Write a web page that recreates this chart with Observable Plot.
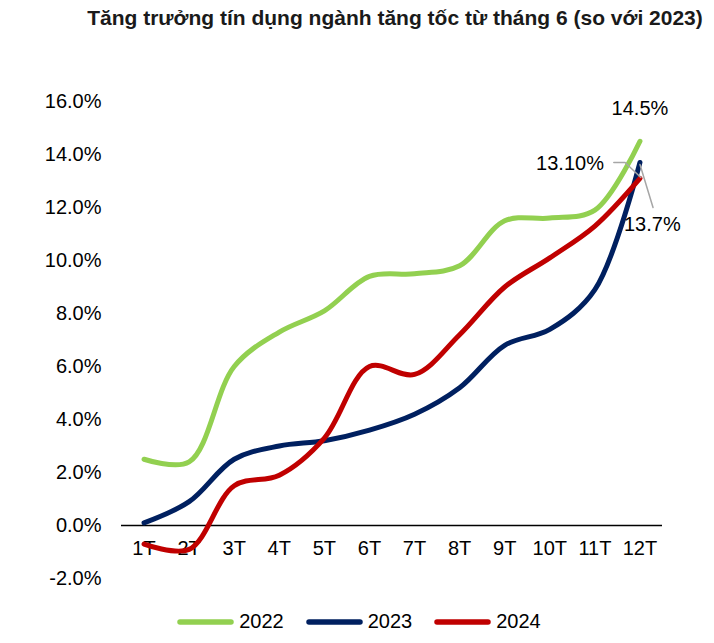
<!DOCTYPE html>
<html>
<head>
<meta charset="utf-8">
<script src="https://cdn.jsdelivr.net/npm/d3@7"></script>
<script src="https://cdn.jsdelivr.net/npm/@observablehq/plot@0.6"></script>
<style>
  body { margin: 0; background: #fff; font-family: "Liberation Sans", Arial, sans-serif; }
  #wrap { width: 714px; height: 643px; position: relative; overflow: hidden; }
  #title { height: 40px; line-height: 36px; font-weight: bold; font-size: 21px; color: #1a1a1a; text-align: center; padding-left: 76px; box-sizing: border-box; white-space: nowrap; }
  #legend { display: flex; justify-content: center; align-items: center; height: 43px; font-size: 20px; color: #000; padding-left: 4px; }
  .item { display: flex; align-items: center; margin: 0 11px; }
  .item svg { margin-right: 5px; }
</style>
</head>
<body>
<div id="wrap">
  <div id="title">Tăng trưởng tín dụng ngành tăng tốc từ tháng 6 (so với 2023)</div>
  <div id="chart"></div>
  <div id="legend"></div>
</div>
<script>
const months = [1,2,3,4,5,6,7,8,9,10,11,12];
const monthLabels = ["1T","2T","3T","4T","5T","6T","7T","8T","9T","10T","11T","12T"];
const series = ["2022", "2023", "2024"];
const colors = ["#92D050", "#002060", "#C00000"];
const v2022 = [2.5, 2.4, 6.0, 7.3, 8.1, 9.4, 9.5, 9.8, 11.5, 11.6, 11.9, 14.5];
const v2023 = [0.1, 0.9, 2.5, 3.0, 3.2, 3.6, 4.2, 5.2, 6.8, 7.4, 8.9, 13.7];
const v2024 = [-0.7, -0.9, 1.5, 1.9, 3.3, 6.0, 5.7, 7.2, 9.0, 10.1, 11.3, 13.1];
const yTicks = [-2, 0, 2, 4, 6, 8, 10, 12, 14, 16];
const endTexts = ["14.5%", "13.7%", "13.10%"];

const values = [v2022, v2023, v2024];
const data = series.flatMap((s, i) => months.map((m, j) => ({series: s, month: m, value: values[i][j]})));

// leader lines (annotation, in data space)
const leader2024 = [{x: 11.42, y: 13.70}, {x: 11.67, y: 13.70}, {x: 12.02, y: 13.13}];
const leader2023 = [{x: 12.0, y: 13.62}, {x: 12.29, y: 12.0}];

const font = {fontSize: 20, fill: "#000"};
const chart = Plot.plot({
  width: 714,
  height: 560,
  marginLeft: 121,
  marginRight: 52,
  marginTop: 61,
  marginBottom: 22,
  style: {fontFamily: "'Liberation Sans', Arial, sans-serif", fontSize: "20px", color: "#000", background: "#fff"},
  x: {domain: [0.5, 12.5], axis: null},
  y: {domain: [-2, 16], axis: null},
  color: {domain: series, range: colors},
  marks: [
    Plot.text(yTicks, {x: 0.5, y: d => d, text: d => d.toFixed(1) + "%", textAnchor: "end", dx: -20, ...font}),
    Plot.ruleY([0], {stroke: "#000", strokeWidth: 1.5}),
    Plot.text(months, {x: d => d, y: 0, text: (d, i) => monthLabels[i], dy: 23, ...font}),
    Plot.line(data, {x: "month", y: "value", stroke: "series", z: "series", strokeWidth: 5, curve: "catmull-rom", strokeLinecap: "round", strokeLinejoin: "round"}),
    Plot.line(leader2024, {x: "x", y: "y", stroke: "#A6A6A6", strokeWidth: 1.5}),
    Plot.line(leader2023, {x: "x", y: "y", stroke: "#A6A6A6", strokeWidth: 1.5}),
    Plot.text([v2022[11]], {x: 12, y: d => d, text: () => endTexts[0], dy: -33, textAnchor: "middle", ...font}),
    Plot.text([v2023[11]], {x: 12, y: d => d, text: () => endTexts[1], dx: -16, dy: 62, textAnchor: "start", ...font}),
    Plot.text([v2024[11]], {x: 12, y: d => d, text: () => endTexts[2], dx: -36, dy: -15, textAnchor: "end", ...font})
  ]
});
document.getElementById("chart").appendChild(chart);

const legend = document.getElementById("legend");
series.forEach((s, i) => {
  const item = document.createElement("div");
  item.className = "item";
  item.innerHTML = `<svg width="57" height="8"><line x1="3" y1="4" x2="54" y2="4" stroke="${colors[i]}" stroke-width="5.5" stroke-linecap="round"/></svg><span>${s}</span>`;
  legend.appendChild(item);
});
</script>
</body>
</html>
